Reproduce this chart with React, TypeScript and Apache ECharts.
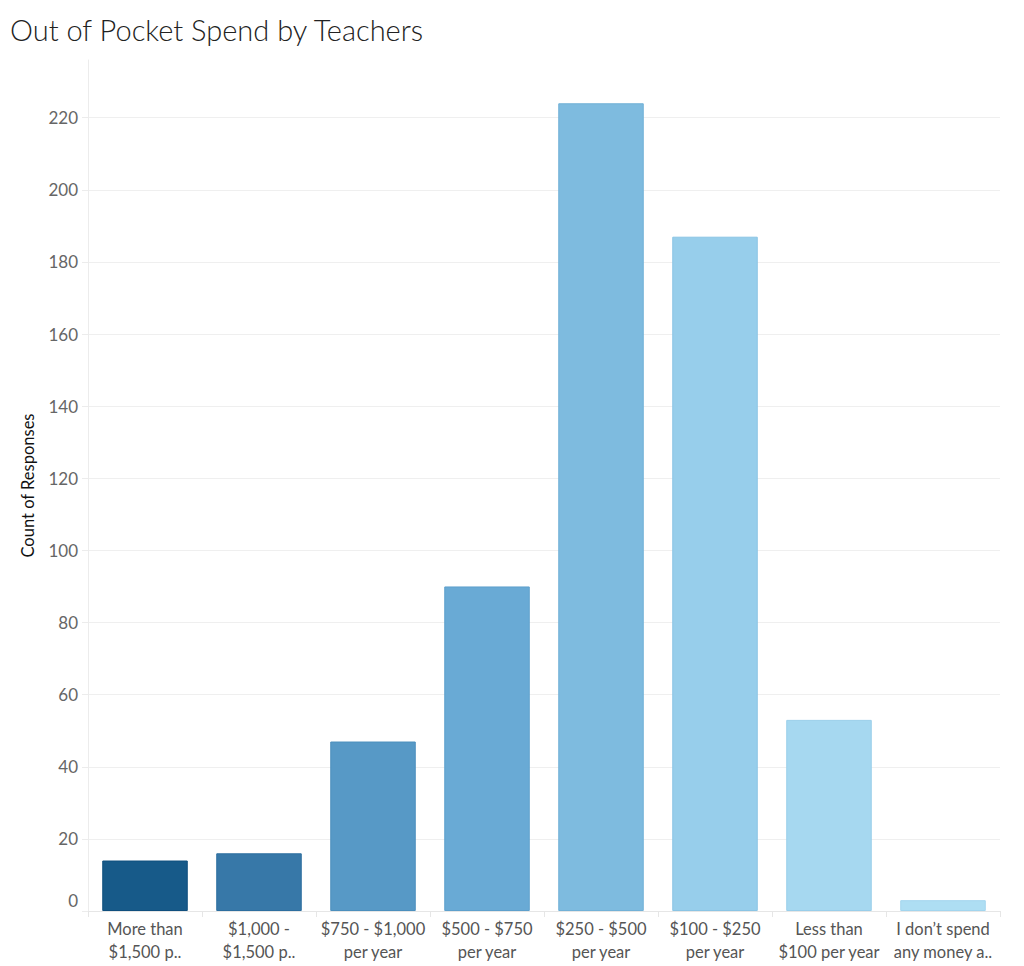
import React, { useEffect, useRef } from "react";
import * as echarts from "echarts";

const categories = [
  "More than\n$1,500 p..",
  "$1,000 -\n$1,500 p..",
  "$750 - $1,000\nper year",
  "$500 - $750\nper year",
  "$250 - $500\nper year",
  "$100 - $250\nper year",
  "Less than\n$100 per year",
  "I don’t spend\nany money a..",
];
const counts = [14, 16, 47, 90, 224, 187, 53, 3];
const barColors = ["#175A89", "#3778A8", "#5799C6", "#69AAD5", "#7EBBDF", "#97CEEB", "#A6D8F0", "#AEDEF3"];
const borderColors = ["#0F4F7E", "#2D6E9F", "#4C8FBD", "#5EA0CC", "#72B1D7", "#8AC4E4", "#99CEEA", "#A2D5EE"];
const yTicks = [0, 20, 40, 60, 80, 100, 120, 140, 160, 180, 200, 220];

const FONT = "Lato, 'Open Sans', sans-serif";

export default function App() {
  const ref = useRef<HTMLDivElement>(null);
  useEffect(() => {
    const chart = echarts.init(ref.current!, undefined, { renderer: "svg" });
    chart.setOption({
      animation: false,
      backgroundColor: "#ffffff",
      title: {
        text: "Out of Pocket Spend by Teachers",
        left: 5,
        top: 10,
        textStyle: { fontFamily: FONT, fontWeight: 300, fontSize: 29, color: "#222" },
      },
      grid: { left: 88, right: 24, top: 60, bottom: 55 },
      xAxis: {
        type: "category",
        data: categories,
        axisLine: { show: true, lineStyle: { color: "#e6e6e6", width: 1 } },
        axisTick: { show: true, length: 6, lineStyle: { color: "#e6e6e6" } },
        axisLabel: {
          interval: 0,
          margin: 6,
          fontFamily: FONT,
          fontSize: 16.5,
          lineHeight: 23,
          color: "#555",
        },
      },
      yAxis: {
        type: "value",
        min: 0,
        max: 236,
        interval: 20,
        name: "Count of Responses",
        nameLocation: "middle",
        nameGap: 52,
        nameTextStyle: { fontFamily: FONT, fontSize: 16.5, color: "#111" },
        axisLine: { show: true, lineStyle: { color: "#ececec" } },
        axisTick: { show: true, length: 6, lineStyle: { color: "#ececec" } },
        splitLine: { show: true, showMaxLine: false, lineStyle: { color: "#efefef", width: 1 } },
        axisLabel: {
          showMaxLabel: false,
          margin: 10,
          fontFamily: FONT,
          fontSize: 17,
          color: "#666",
          formatter: (v: number) => (yTicks.includes(v) ? (v === 0 ? "{z|0}" : String(v)) : ""),
          rich: { z: { fontFamily: FONT, fontSize: 17, color: "#666", padding: [0, 0, 22, 0] } },
        },
      },
      series: [
        {
          type: "bar",
          barCategoryGap: "25%",
          data: counts.map((v, i) => ({
            value: v,
            itemStyle: { color: barColors[i], borderColor: borderColors[i], borderWidth: 1 },
          })),
        },
      ],
    });
    return () => chart.dispose();
  }, []);
  return <div ref={ref} style={{ width: 1024, height: 966, position: "absolute", left: 0, top: 0 }} />;
}
